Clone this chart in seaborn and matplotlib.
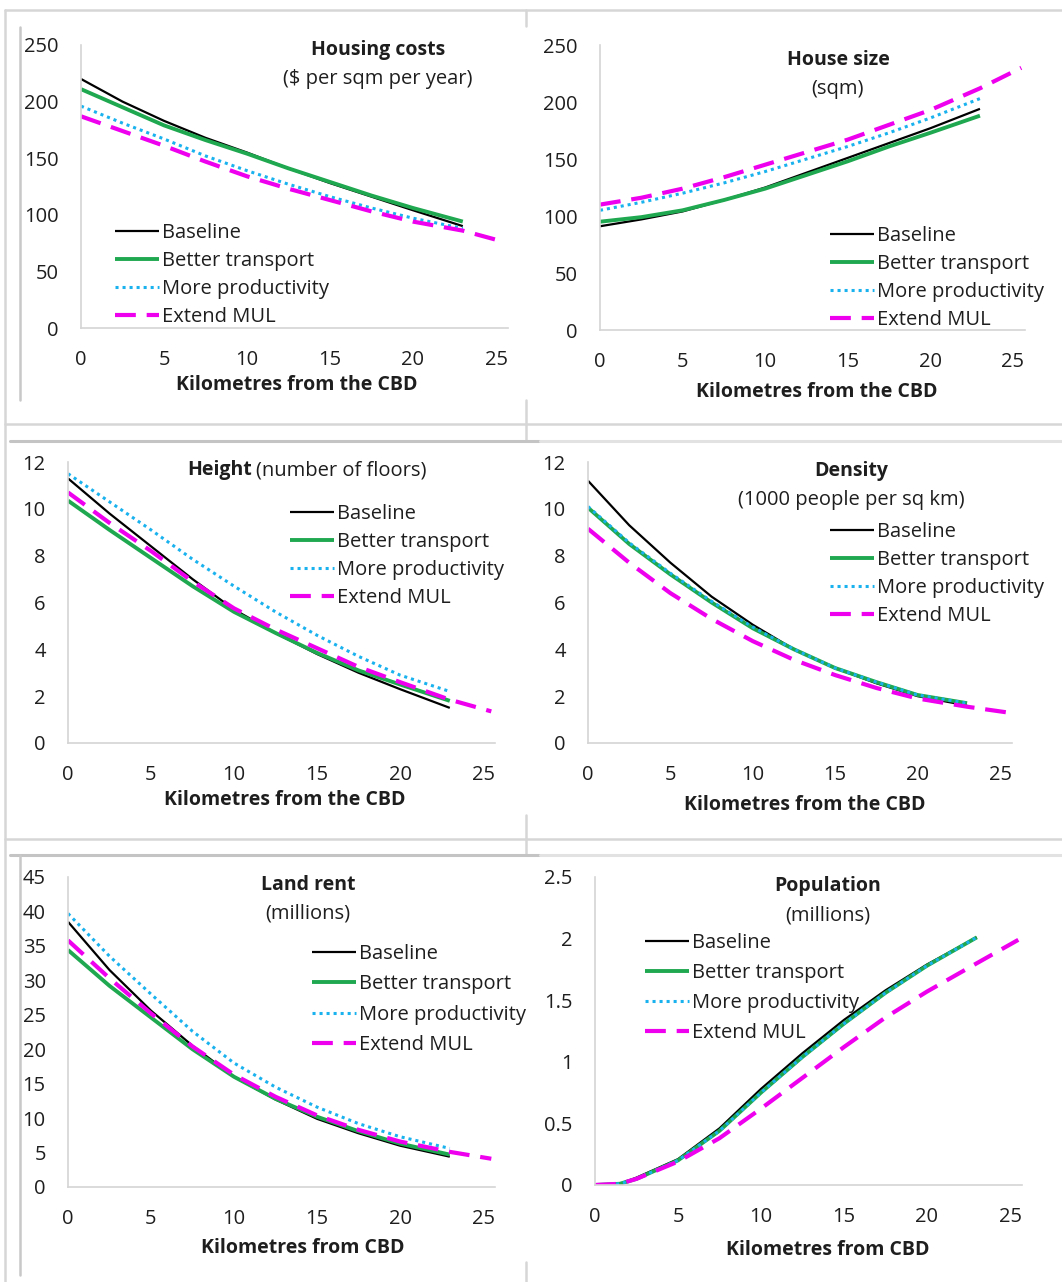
import numpy as np
import pandas as pd
import seaborn as sns
import matplotlib.pyplot as plt
from matplotlib.lines import Line2D

W, H = 1062, 1282

# distances (km from CBD)
km = [0, 2.5, 5, 7.5, 10, 12.5, 15, 17.5, 20, 23]
km_mul = km + [25.5]
km_pop = [0, 1.5, 2.5, 5, 7.5, 10, 12.5, 15, 17.5, 20, 23]
km_pop_mul = km_pop + [25.5]

# housing costs ($ per sqm per year)
cost_base = [220, 200, 183, 168, 155, 141, 128, 116, 104, 90]
cost_trans = [211, 195, 179, 166, 154, 141, 129, 117, 106, 94]
cost_prod = [196, 181, 167, 152, 139, 127, 116, 106, 97, 88]
cost_mul = [187, 174, 161, 147, 134, 123, 113, 103, 94, 86, 76]

# house size (sqm)
size_base = [91, 97, 104, 114, 125, 138, 151, 164, 177, 194]
size_trans = [95, 99, 105, 114, 124, 136, 148, 161, 173, 188]
size_prod = [105, 112, 120, 129, 139, 150, 161, 173, 186, 203]
size_mul = [110, 116, 124, 134, 145, 156, 167, 180, 193, 212, 230]

# height (number of floors)
height_base = [11.3, 9.8, 8.4, 7.0, 5.7, 4.7, 3.8, 3.0, 2.3, 1.5]
height_trans = [10.35, 9.1, 7.9, 6.7, 5.6, 4.7, 3.85, 3.1, 2.5, 1.8]
height_prod = [11.5, 10.3, 9.1, 7.85, 6.7, 5.6, 4.6, 3.7, 2.9, 2.2]
height_mul = [10.7, 9.4, 8.2, 6.9, 5.75, 4.85, 4.05, 3.25, 2.6, 1.85, 1.35]

# density (1000 people per sq km)
dens_base = [11.2, 9.3, 7.7, 6.25, 5.05, 4.0, 3.2, 2.55, 2.0, 1.6]
dens_trans = [10.05, 8.5, 7.2, 6.0, 4.9, 4.0, 3.2, 2.6, 2.05, 1.7]
dens_prod = [10.1, 8.55, 7.25, 6.05, 4.95, 4.0, 3.2, 2.6, 2.05, 1.7]
dens_mul = [9.15, 7.7, 6.4, 5.3, 4.35, 3.55, 2.9, 2.35, 1.9, 1.55, 1.3]

# land rent (millions)
rent_base = [38.5, 31.5, 25.6, 20.5, 16.0, 12.7, 9.9, 7.8, 6.0, 4.4]
rent_trans = [34.4, 29.2, 24.6, 20.0, 16.0, 12.8, 10.2, 8.1, 6.3, 4.7]
rent_prod = [39.7, 33.5, 28.0, 22.6, 18.0, 14.5, 11.6, 9.2, 7.3, 5.6]
rent_mul = [35.8, 30.3, 25.2, 20.4, 16.3, 13.1, 10.4, 8.3, 6.6, 5.1, 4.1]

# population (millions)
pop_base = [0, 0.01, 0.06, 0.21, 0.46, 0.78, 1.07, 1.34, 1.58, 1.79, 2.01]
pop_trans = [0, 0.01, 0.05, 0.2, 0.44, 0.75, 1.04, 1.31, 1.56, 1.78, 2.01]
pop_prod = [0, 0.01, 0.05, 0.2, 0.44, 0.75, 1.04, 1.31, 1.56, 1.78, 2.01]
pop_mul = [0, 0.01, 0.05, 0.19, 0.38, 0.62, 0.87, 1.12, 1.36, 1.57, 1.8, 1.99]

names = ["Baseline", "Better transport", "More productivity", "Extend MUL"]
styles = {
    "Baseline": dict(color="black", lw=1.6, ls="-"),
    "Better transport": dict(color="#1fa84f", lw=2.8, ls="-"),
    "More productivity": dict(color="#1ab2ee", lw=2.2, ls=(0, (1, 1.3))),
    "Extend MUL": dict(color="#ee00ee", lw=3.0, ls=(0, (5, 2.6))),
}

sns.set_style("white")
plt.rcParams["font.family"] = ["Open Sans", "DejaVu Sans"]
FS = 14.5   # regular text
FB = 14     # bold text
TC = "#1e1e1e"

fig = plt.figure(figsize=(W / 100, H / 100), dpi=100)


def fx(x):
    return x / W


def fy(y):
    return 1 - y / H


def hline(y, x0, x1, c="#d6d6d6", lw=1.8):
    fig.add_artist(Line2D([fx(x0), fx(x1)], [fy(y), fy(y)], color=c, lw=lw,
                          transform=fig.transFigure))


def vline(x, y0, y1, c="#d6d6d6", lw=1.8):
    fig.add_artist(Line2D([fx(x), fx(x)], [fy(y0), fy(y1)], color=c, lw=lw,
                          transform=fig.transFigure))


# table borders
hline(10, 5, 1062)
hline(424, 5, 1062)
hline(839, 5, 1062)
vline(5, 10, 1282)
vline(526, 10, 26)
vline(526, 400, 441)
vline(526, 815, 855)
vline(526, 1262, 1282)
# picture edges
vline(20, 27, 400, c="#c8c8c8")
hline(441, 10, 539, c="#c4c4c4", lw=2.2)
hline(441, 540, 1062, c="#e2e2e2", lw=2.2)
hline(855, 10, 539, c="#c4c4c4", lw=2.2)
hline(855, 540, 1062, c="#e2e2e2", lw=2.2)
vline(20, 855, 1275, c="#c8c8c8")


def panel(x0, top, bottom, pxkm, xs, xs_mul, series, ylim, yticks, ylabels,
          title, sub, tpos, legpos, spacing, xlabel, xlpos):
    right = x0 + 25.7 * pxkm
    ax = fig.add_axes([fx(x0), fy(bottom), (right - x0) / W, (bottom - top) / H])
    for name, vals in zip(names, series):
        x = xs_mul if name == "Extend MUL" else xs
        st = styles[name]
        sns.lineplot(x=x, y=vals, ax=ax, color=st["color"], linewidth=st["lw"],
                     linestyle=st["ls"], label=name, sort=False,
                     solid_capstyle="butt", dash_capstyle="butt")
    ax.set_xlim(0, 25.7)
    ax.set_ylim(*ylim)
    ax.set_xticks([0, 5, 10, 15, 20, 25])
    ax.set_xticklabels(["0", "5", "10", "15", "20", "25"])
    ax.set_yticks(yticks)
    ax.set_yticklabels(ylabels)
    ax.set_xlabel("")
    ax.set_ylabel("")
    for s in ["top", "right"]:
        ax.spines[s].set_visible(False)
    for s in ["left", "bottom"]:
        ax.spines[s].set_color("#d4d4d4")
        ax.spines[s].set_linewidth(1.2)
    ax.tick_params(axis="x", direction="in", length=5, width=1, color="#d4d4d4",
                   pad=15.5, labelsize=FS, labelcolor=TC)
    ax.tick_params(axis="y", direction="out", length=4, width=1, color="#d4d4d4",
                   pad=12, labelsize=FS, labelcolor=TC)
    ax.patch.set_alpha(0)
    h, l = ax.get_legend_handles_labels()
    leg = ax.legend(h, l, loc="upper left",
                    bbox_to_anchor=(fx(legpos[0]), fy(legpos[1])),
                    bbox_transform=fig.transFigure, frameon=False, borderpad=0,
                    borderaxespad=0, handlelength=2.2, handletextpad=0.12,
                    labelspacing=spacing, fontsize=FS)
    for t in leg.get_texts():
        t.set_color(TC)
    if sub is None:
        # bold word followed by regular text on one line
        fig.text(fx(tpos[0]), fy(tpos[1]), title, ha="right", va="center",
                 fontsize=FB, fontweight="bold", color=TC)
        fig.text(fx(tpos[0] + 4), fy(tpos[1]), tpos[2], ha="left", va="center",
                 fontsize=FS, color=TC)
    else:
        fig.text(fx(tpos[0]), fy(tpos[1]), title, ha="center", va="center",
                 fontsize=FB, fontweight="bold", color=TC)
        fig.text(fx(tpos[0]), fy(tpos[1] + 29), sub, ha="center", va="center",
                 fontsize=FS, color=TC)
    fig.text(fx(xlpos[0]), fy(xlpos[1]), xlabel, ha="center", va="center",
             fontsize=FB, fontweight="bold", color=TC)
    return ax


panel(81, 45, 328, 16.6, km, km_mul, [cost_base, cost_trans, cost_prod, cost_mul],
      (0, 250), range(0, 251, 50), [str(v) for v in range(0, 251, 50)],
      "Housing costs", "($ per sqm per year)", (378, 50), (115, 223), 0.4,
      "Kilometres from the CBD", (297, 385))

panel(600, 45, 330, 16.52, km, km_mul, [size_base, size_trans, size_prod, size_mul],
      (0, 250), range(0, 251, 50), [str(v) for v in range(0, 251, 50)],
      "House size", "(sqm)", (838, 60), (830, 226), 0.4,
      "Kilometres from the CBD", (817, 392))

panel(68, 462, 743, 16.6, km, km_mul, [height_base, height_trans, height_prod, height_mul],
      (0, 12), range(0, 13, 2), [str(v) for v in range(0, 13, 2)],
      "Height", None, (252, 470, "(number of floors)"), (290, 504), 0.4,
      "Kilometres from the CBD", (285, 800))

panel(588, 462, 743, 16.48, km, km_mul, [dens_base, dens_trans, dens_prod, dens_mul],
      (0, 12), range(0, 13, 2), [str(v) for v in range(0, 13, 2)],
      "Density", "(1000 people per sq km)", (851, 471), (830, 522), 0.4,
      "Kilometres from the CBD", (805, 805))

panel(68, 877, 1187, 16.6, km, km_mul, [rent_base, rent_trans, rent_prod, rent_mul],
      (0, 45), range(0, 46, 5), [str(v) for v in range(0, 46, 5)],
      "Land rent", "(millions)", (308, 885), (312, 944), 0.52,
      "Kilometres from CBD", (303, 1248))

panel(595, 877, 1185, 16.6, km_pop, km_pop_mul, [pop_base, pop_trans, pop_prod, pop_mul],
      (0, 2.5), [0, 0.5, 1, 1.5, 2, 2.5], ["0", "0.5", "1", "1.5", "2", "2.5"],
      "Population", "(millions)", (828, 886), (645, 933), 0.5,
      "Kilometres from CBD", (828, 1250))

fig.savefig("out.png", dpi=100, facecolor="white")
